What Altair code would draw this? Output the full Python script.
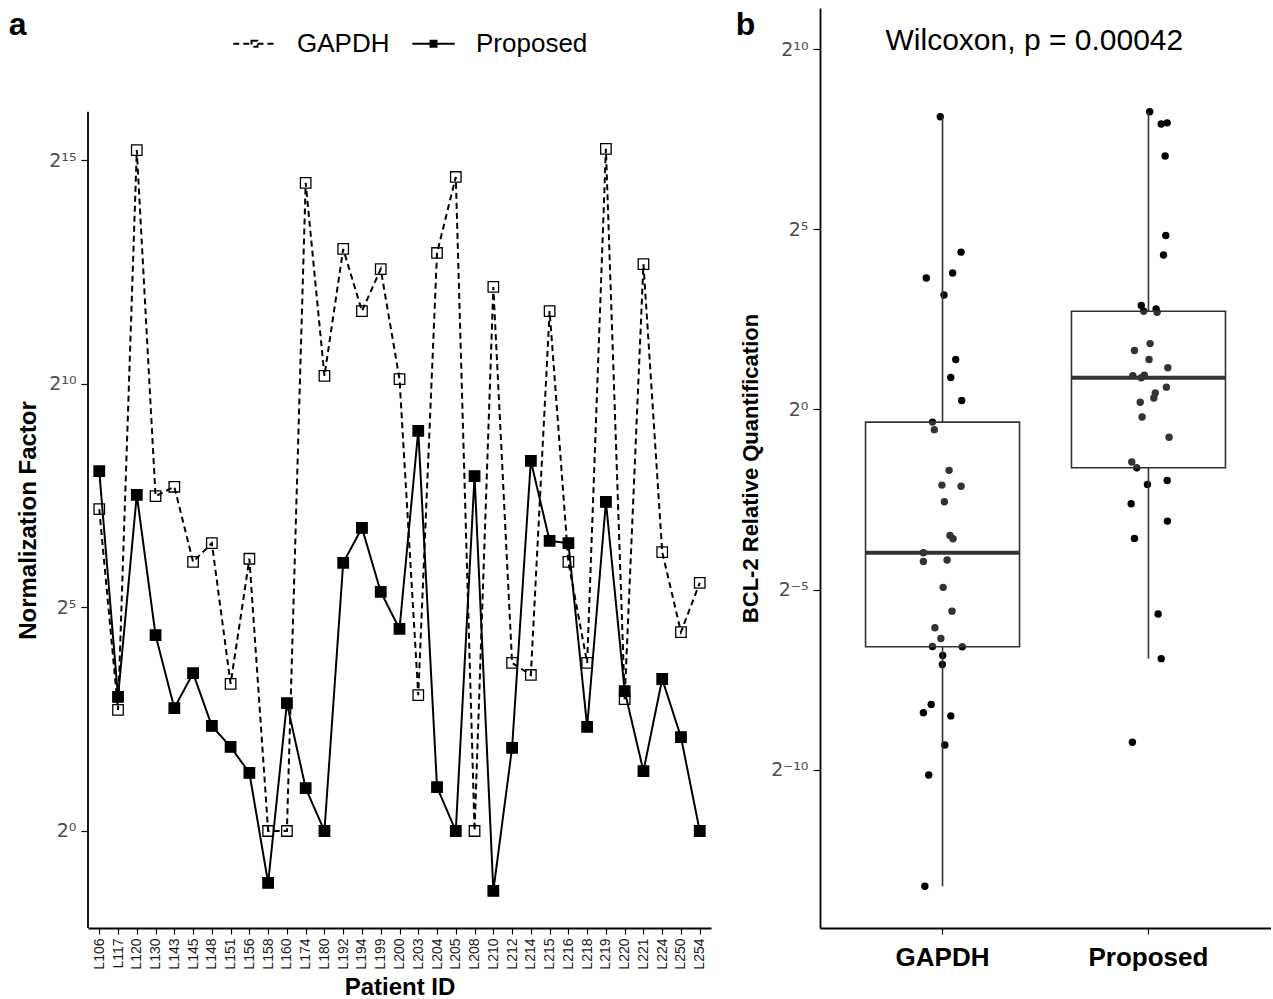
import altair as alt
import pandas as pd

FONT = "Liberation Sans"
TICK_FONT = "DejaVu Sans"

# ---------------- panel a data ----------------
patients = ["L106", "L117", "L120", "L130", "L143", "L145", "L148", "L151", "L156", "L158",
            "L160", "L174", "L180", "L192", "L194", "L199", "L200", "L203", "L204", "L205",
            "L208", "L210", "L212", "L214", "L215", "L216", "L218", "L219", "L220", "L221",
            "L224", "L250", "L254"]
# log2 of normalization factor
gapdh_nf_log2 = [7.20, 2.71, 15.23, 7.49, 7.70, 6.02, 6.44, 3.29, 6.09, 0.0,
                 0.0, 14.50, 10.18, 13.02, 11.63, 12.57, 10.11, 3.04, 12.93, 14.63,
                 0.0, 12.17, 3.76, 3.49, 11.63, 6.02, 3.76, 15.26, 2.95, 12.68,
                 6.24, 4.45, 5.55]
proposed_nf_log2 = [8.05, 3.00, 7.52, 4.38, 2.75, 3.53, 2.35, 1.88, 1.30, -1.16,
                    2.86, 0.96, 0.0, 6.00, 6.78, 5.35, 4.52, 8.95, 0.98, 0.0,
                    7.94, -1.34, 1.86, 8.28, 6.49, 6.44, 2.33, 7.36, 3.13, 1.34,
                    3.40, 2.10, 0.0]
series_names = ["GAPDH", "Proposed"]

# ---------------- panel b data ----------------
bcl2_gapdh_log2 = [8.13, 4.37, 3.65, 3.79, 3.18, 1.39, 0.89, 0.25, -0.35, -0.56,
                   -1.69, -2.10, -2.13, -2.56, -3.50, -3.59, -3.98, -4.22, -4.18, -4.94,
                   -5.60, -6.06, -6.36, -6.58, -6.59, -6.83, -7.08, -8.19, -8.42, -8.51,
                   -9.32, -10.15, -13.24]
bcl2_gapdh_jitter = [-0.011, 0.090, -0.079, 0.049, 0.007, 0.064, 0.040, 0.093, -0.049, -0.040,
                     0.032, -0.003, 0.090, 0.009, 0.036, 0.051, -0.093, -0.093, 0.022, 0.003,
                     0.046, -0.037, -0.008, -0.049, 0.096, 0.001, -0.001, -0.055, -0.093, 0.040,
                     0.011, -0.067, -0.086]
bcl2_proposed_log2 = [8.27, 7.93, 7.96, 7.04, 4.83, 4.29, 2.89, 2.73, 2.79, 2.70,
                      1.83, 1.64, 1.39, 1.16, 0.95, 0.94, 0.88, 0.62, 0.46, 0.32,
                      0.20, -0.21, -0.77, -1.46, -1.62, -1.97, -2.08, -2.62, -3.10, -3.58,
                      -5.68, -6.92, -9.24]
bcl2_proposed_jitter = [0.006, 0.062, 0.091, 0.081, 0.084, 0.073, -0.035, -0.023, 0.037, 0.042,
                        0.008, -0.068, 0.003, 0.094, -0.020, -0.076, -0.035, 0.087, 0.033, 0.026,
                        -0.040, -0.031, 0.100, -0.081, -0.057, 0.091, -0.005, -0.084, 0.092, -0.068,
                        0.047, 0.062, -0.078]
wilcoxon_label = "Wilcoxon, p = 0.00042"
wilcoxon_y = 10.17

# axis ticks (exponents of 2)
ticks_a = [0, 5, 10, 15]
ticks_b = [-10, -5, 0, 5, 10]
# scale limits (log2 units)
Y_A_LOW, Y_A_HIGH, Y_A_TOP = -2.17, 16.09, 18.41
Y_B_LOW, Y_B_TOP = -14.4, 11.15

SUP = {"0": "⁰", "1": "¹", "2": "²", "3": "³", "4": "⁴", "5": "⁵",
       "6": "⁶", "7": "⁷", "8": "⁸", "9": "⁹", "-": "⁻"}


def pow2_label_expr(ticks):
    expr = "''"
    for t in reversed(ticks):
        lab = "2" + "".join(SUP[c] for c in str(t))
        expr = f"datum.value == {t} ? '{lab}' : ({expr})"
    return expr


# ---------------- panel a ----------------
df_a = pd.DataFrame({
    "patient": patients * 2,
    "series": [series_names[0]] * len(patients) + [series_names[1]] * len(patients),
    "log2nf": gapdh_nf_log2 + proposed_nf_log2,
})

x_a = alt.X("patient:N", sort=patients,
            scale=alt.Scale(type="point", padding=0.6),
            axis=alt.Axis(title="Patient ID", labelAngle=270, labelFontSize=14,
                          labelColor="#1a1a1a", titleFontSize=24, titleFontWeight="bold",
                          tickSize=6, labelPadding=4, titlePadding=6,
                          domainColor="black", domainWidth=1.8, tickColor="black",
                          tickWidth=1.2))
y_a = alt.Y("log2nf:Q",
            scale=alt.Scale(domain=[Y_A_LOW, Y_A_TOP], nice=False, zero=False),
            axis=alt.Axis(values=ticks_a, labelExpr=pow2_label_expr(ticks_a), domain=False,
                          title="Normalization Factor", titleFontSize=24, titleFontWeight="bold",
                          titleY=512,
                          labelFont=TICK_FONT, labelFontSize=19, labelColor="#4d4d4d",
                          tickSize=7, tickColor="black",
                          tickWidth=1.2, labelPadding=5, titlePadding=8, grid=False))

axis_line_a = alt.Chart(pd.DataFrame({"k": [0]})).mark_rule(color="black", strokeWidth=1.8).encode(
    x=alt.value(0), y=alt.YDatum(Y_A_LOW), y2=alt.Y2Datum(Y_A_HIGH))

legend_path = "M-1,0L-0.14,0M0.14,0L1,0M-0.14,-0.14L0.14,-0.14L0.14,0.14L-0.14,0.14Z"


def series_legend():
    return alt.Legend(title=None, orient="none", direction="horizontal",
                      legendX=144, legendY=13,
                      symbolType=legend_path, symbolSize=1800,
                      symbolStrokeColor="black", symbolStrokeWidth=2,
                      labelFontSize=26, labelFont=FONT, labelColor="black",
                      labelOffset=20, columnPadding=18)


lines_a = alt.Chart(df_a).mark_line(color="black", strokeWidth=2).encode(
    x=x_a, y=y_a,
    strokeDash=alt.StrokeDash("series:N", scale=alt.Scale(domain=series_names, range=[[6, 4], [1, 0]]),
                              legend=series_legend()))

points_a = alt.Chart(df_a).mark_point(shape="square", size=110, stroke="black", strokeWidth=1.3,
                                      opacity=1, fillOpacity=1).encode(
    x=x_a, y=y_a,
    fill=alt.Fill("series:N", scale=alt.Scale(domain=series_names, range=["transparent", "black"]),
                  legend=series_legend()))

panel_a = alt.layer(axis_line_a, lines_a, points_a).properties(
    width=623, height=920,
    title=alt.TitleParams("a", anchor="start", frame="bounds", fontSize=32, fontWeight="bold",
                          font=FONT, offset=-34, dx=-8))

# ---------------- panel b ----------------
df_b = pd.DataFrame({
    "group": [series_names[0]] * len(bcl2_gapdh_log2) + [series_names[1]] * len(bcl2_proposed_log2),
    "log2rq": bcl2_gapdh_log2 + bcl2_proposed_log2,
    "jitter": bcl2_gapdh_jitter + bcl2_proposed_jitter,
})

x_b = alt.X("group:N", sort=series_names,
            scale=alt.Scale(paddingInner=0, paddingOuter=0.095),
            axis=alt.Axis(title=None, labelAngle=0, labelFontSize=26, labelFontWeight="bold",
                          labelColor="black", tickSize=6, labelPadding=10,
                          domainColor="black", domainWidth=1.8, tickColor="black", tickWidth=1.2))
y_b = alt.Y("log2rq:Q",
            scale=alt.Scale(domain=[Y_B_LOW, Y_B_TOP], nice=False, zero=False),
            axis=alt.Axis(values=ticks_b, labelExpr=pow2_label_expr(ticks_b),
                          title="BCL-2 Relative Quantification", titleFontSize=22,
                          titleFontWeight="bold", labelFont=TICK_FONT, labelFontSize=19,
                          labelColor="#4d4d4d",
                          tickSize=7, tickColor="black", tickWidth=1.2, labelPadding=5,
                          titlePadding=8, domainColor="black", domainWidth=1.8, grid=False))

points_b = alt.Chart(df_b).mark_circle(size=55, color="black", opacity=1).encode(
    x=x_b, y=y_b,
    xOffset=alt.XOffset("jitter:Q", scale=alt.Scale(domain=[-0.5, 0.5])))

box_b = alt.Chart(df_b).mark_boxplot(
    extent=1.5, size=154, outliers=False,
    box={"fill": "white", "fillOpacity": 0.2, "stroke": "#333333", "strokeWidth": 1.6},
    median={"color": "#333333", "thickness": 4, "opacity": 1},
    rule={"color": "#333333", "strokeWidth": 1.6}).encode(x=x_b, y=y_b)

text_b = alt.Chart(pd.DataFrame({"label": [wilcoxon_label]})).mark_text(
    align="left", baseline="middle", fontSize=30, dx=-57, dy=-2, font=FONT, color="black").encode(
    x=alt.XDatum(series_names[0], type="nominal"), y=alt.YDatum(wilcoxon_y), text="label:N")

panel_b = alt.layer(points_b, box_b, text_b).properties(
    width=451, height=920,
    title=alt.TitleParams("b", anchor="start", frame="bounds", fontSize=32, fontWeight="bold",
                          font=FONT, offset=-34, dx=-4))

chart = alt.hconcat(panel_a, panel_b, spacing=24).properties(
    padding={"left": 8, "top": 8, "right": 0, "bottom": 0},
    background="white",
).configure_view(strokeWidth=0, stroke="transparent").configure_axis(
    labelFont=FONT, titleFont=FONT
)

chart.save("out.html", embed_options={"renderer": "svg", "actions": False})
